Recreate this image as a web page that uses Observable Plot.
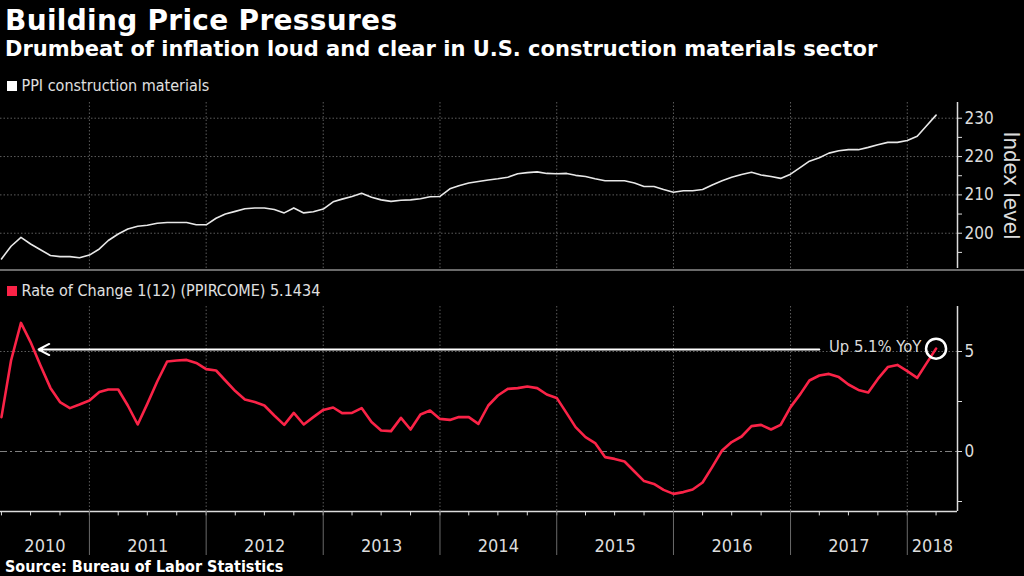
<!DOCTYPE html>
<html><head><meta charset="utf-8">
<script src="https://cdn.jsdelivr.net/npm/d3@7"></script>
<script src="https://cdn.jsdelivr.net/npm/@observablehq/plot@0.6"></script>
<style>
html,body{margin:0;padding:0;background:#000;}
#root{position:relative;width:1024px;height:576px;overflow:hidden;background:#000;color:#fff;font-family:"DejaVu Sans Condensed","DejaVu Sans",sans-serif;}
.abs{position:absolute;white-space:nowrap;line-height:1;}
#title{left:5px;top:7px;font-weight:bold;font-size:28px;font-family:"DejaVu Sans",sans-serif;letter-spacing:0.3px;}
#subtitle{left:5px;top:39px;font-weight:bold;font-size:21px;font-family:"DejaVu Sans",sans-serif;}
.legend{font-size:16px;color:#e0e0e0;}
.sw{width:10px;height:10px;}
#source{left:5px;top:559px;font-weight:bold;font-size:16px;color:#fff;}
#sep{left:0;top:269px;width:1024px;height:2px;background:#6a6a6a;}
#topChart,#bottomChart{position:absolute;left:0;}
#topChart{top:100px;}
#bottomChart{top:300px;}
</style>
</head><body>
<div id="root">
  <div id="title" class="abs">Building Price Pressures</div>
  <div id="subtitle" class="abs">Drumbeat of inflation loud and clear in U.S. construction materials sector</div>
  <div class="abs sw" style="left:7px;top:81px;background:#ffffff"></div>
  <div class="abs legend" style="left:21.5px;top:78px">PPI construction materials</div>
  <div id="topChart"></div>
  <div id="sep" class="abs"></div>
  <div class="abs sw" style="left:7px;top:286px;background:#fa2347"></div>
  <div class="abs legend" style="left:21.5px;top:283px">Rate of Change 1(12) (PPIRCOME) 5.1434</div>
  <div id="bottomChart"></div>
  <div id="source" class="abs">Source: Bureau of Labor Statistics</div>
</div>
<script>
// ---- data (monthly, Apr 2010 – Apr 2018) ----
const startMonth = "2010-04-01";
const ppi = [
  193.3, 196.6, 198.9, 197.2, 195.7, 194.2, 193.9, 193.9, 193.6,
  194.3, 195.9, 198.1, 199.8, 201.1, 201.8, 202.1, 202.6, 202.8, 202.8, 202.8, 202.2,
  202.2, 203.9, 205.0, 205.7, 206.4, 206.6, 206.6, 206.2, 205.3, 206.6, 205.3, 205.6,
  206.3, 208.2, 208.9, 209.6, 210.4, 209.4, 208.7, 208.3, 208.6, 208.7, 209.0, 209.5,
  209.6, 211.6, 212.4, 213.1, 213.5, 213.9, 214.2, 214.6, 215.5, 215.8, 216.0, 215.6,
  215.5, 215.6, 215.1, 214.8, 214.2, 213.7, 213.7, 213.7, 213.1, 212.2, 212.2, 211.4,
  210.7, 211.1, 211.1, 211.4, 212.6, 213.7, 214.6, 215.3, 215.9, 215.2, 214.8, 214.3,
  215.4, 217.2, 218.8, 219.7, 220.9, 221.5, 221.8, 221.8, 222.4, 223.1, 223.7, 223.7,
  224.2, 225.3, 227.9, 230.8
];
const roc = [
  1.72, 4.55, 6.43, 5.47, 4.3, 3.18, 2.47, 2.17, 2.35,
  2.55, 2.97, 3.1, 3.1, 2.3, 1.35, 2.38, 3.5, 4.5, 4.55, 4.58, 4.43,
  4.12, 4.05, 3.55, 3.02, 2.6, 2.47, 2.3, 1.8, 1.33, 1.93, 1.35, 1.72,
  2.08, 2.2, 1.92, 1.93, 2.17, 1.47, 1.05, 1.02, 1.68, 1.1, 1.85, 2.05,
  1.63, 1.58, 1.72, 1.72, 1.38, 2.3, 2.8, 3.13, 3.17, 3.25, 3.17, 2.85,
  2.68, 1.92, 1.22, 0.72, 0.42, -0.28, -0.37, -0.5, -1.0, -1.48, -1.62, -1.92,
  -2.12, -2.03, -1.9, -1.55, -0.78, 0.05, 0.47, 0.75, 1.27, 1.33, 1.1, 1.33,
  2.22, 2.88, 3.55, 3.8, 3.88, 3.72, 3.35, 3.08, 2.95, 3.63, 4.22, 4.33,
  4.02, 3.68, 4.38, 5.1434
];
const years = [2010, 2011, 2012, 2013, 2014, 2015, 2016, 2017, 2018];
const yTicksTop = [200, 210, 220, 230];
const yMinorTop = [195, 205, 215, 225];
const yTicksBottom = [0, 5];
const yMinorBottom = [-2.5, 2.5];
const annotationText = "Up 5.1% YoY";
const annotationValue = 5.1;
const annotationTextDate = "2017-05-01";
const arrowFrom = "2017-04-01";
const arrowTo = "2010-07-26";

// ---- derived ----
const dates = d3.utcMonth.range(new Date(startMonth), d3.utcMonth.offset(new Date(startMonth), ppi.length));
const data = dates.map((date, i) => ({date, ppi: ppi[i], roc: roc[i]}));
const lastPoint = data[data.length - 1];
const xDomain = [new Date("2010-03-29"), new Date("2018-06-07")];
const yearStarts = years.slice(1).map(y => new Date(Date.UTC(y, 0, 1)));
const quarters = d3.utcMonth.every(3).range(xDomain[0], xDomain[1]);
const yearLabels = years.map(y => {
  const a = Math.max(+new Date(Date.UTC(y, 0, 1)), +xDomain[0]);
  const b = Math.min(+new Date(Date.UTC(y + 1, 0, 1)), +xDomain[1]);
  return {year: String(y), mid: new Date((a + b) / 2)};
});

const FONT = '"DejaVu Sans Condensed","DejaVu Sans",sans-serif';
const RED = "#fa2347";
const GRID = "#5c5c5c";
const AX = "#dcdcdc";
const common = {
  width: 1024,
  marginLeft: 0,
  marginRight: 67,
  style: {background: "transparent", color: AX, fontFamily: FONT, overflow: "visible"}
};

const topPlot = Plot.plot({
  ...common,
  height: 170,
  marginTop: 2,
  marginBottom: 2,
  x: {type: "utc", domain: xDomain, axis: null},
  y: {domain: [190.8, 234.1], axis: null},
  marks: [
    Plot.gridY(yTicksTop, {stroke: GRID, strokeOpacity: 1, strokeDasharray: "1.5,2"}),
    Plot.gridX(yearStarts, {stroke: GRID, strokeOpacity: 1, strokeDasharray: "1.5,2"}),
    Plot.ruleX([xDomain[1]], {stroke: AX, strokeWidth: 1.5}),
    Plot.axisY(yTicksTop, {anchor: "right", tickSize: 4, tickPadding: 3, fontSize: 17, color: AX, label: null}),
    Plot.axisY(yMinorTop, {anchor: "right", tickSize: 4, tickFormat: () => "", color: AX, label: null}),
    Plot.text(["Index level"], {frameAnchor: "right", textAnchor: "middle", dx: 54, rotate: 90, fontSize: 22, fill: AX}),
    Plot.line(data, {x: "date", y: "ppi", stroke: "#e8e8e8", strokeWidth: 1.6, strokeLinejoin: "round"})
  ]
});
document.getElementById("topChart").appendChild(topPlot);

const bottomPlot = Plot.plot({
  ...common,
  height: 260,
  marginTop: 6,
  marginBottom: 49,
  x: {type: "utc", domain: xDomain, axis: null},
  y: {domain: [-3, 7.25], axis: null},
  marks: [
    Plot.gridY([5], {stroke: GRID, strokeOpacity: 1, strokeDasharray: "1.5,2"}),
    Plot.gridX(yearStarts, {stroke: GRID, strokeOpacity: 1, strokeDasharray: "1.5,2"}),
    Plot.ruleY([0], {stroke: "#808080", strokeDasharray: "7,3,2,3"}),
    Plot.ruleY([-3], {stroke: AX, strokeWidth: 1.5}),
    Plot.ruleX(quarters, {x: d => d, y1: -3, y2: -3.22, stroke: AX}),
    Plot.ruleX(yearStarts, {x: d => d, y1: -3, y2: -5.2, stroke: "#6a6a6a"}),
    Plot.text(yearLabels, {x: "mid", y: -4.72, text: "year", fontSize: 18, fill: AX}),
    Plot.ruleX([xDomain[1]], {stroke: AX, strokeWidth: 1.5}),
    Plot.axisY(yTicksBottom, {anchor: "right", tickSize: 4, tickPadding: 3, fontSize: 17, color: AX, label: null}),
    Plot.axisY(yMinorBottom, {anchor: "right", tickSize: 4, tickFormat: () => "", color: AX, label: null}),
    Plot.line(data, {x: "date", y: "roc", stroke: RED, strokeWidth: 2.6, strokeLinejoin: "round"}),
    Plot.arrow([{x1: new Date(arrowFrom), x2: new Date(arrowTo), y: annotationValue}],
      {x1: "x1", x2: "x2", y1: "y", y2: "y", stroke: "#ffffff", strokeWidth: 2, headLength: 9, headAngle: 55}),
    Plot.text([{x: new Date(annotationTextDate), y: annotationValue, t: annotationText}],
      {x: "x", y: "y", text: "t", textAnchor: "start", fontSize: 16.5, fill: AX, dy: -3}),
    Plot.dot([lastPoint], {x: "date", y: "roc", r: 10, stroke: "#ffffff", strokeWidth: 2.5, fill: "none"})
  ]
});
document.getElementById("bottomChart").appendChild(bottomPlot);
</script>
</body></html>
